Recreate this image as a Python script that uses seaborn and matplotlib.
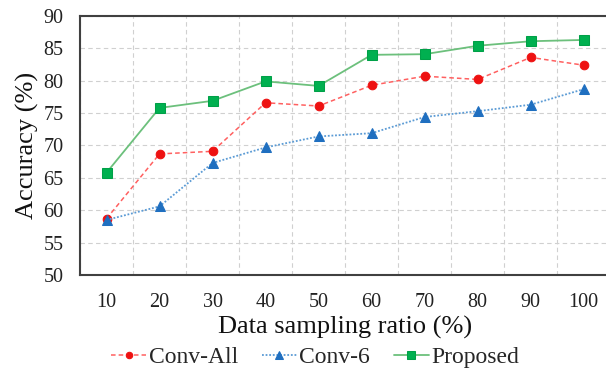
import matplotlib.pyplot as plt
import seaborn as sns
import pandas as pd
from matplotlib.ticker import MultipleLocator

# ---------------------------------------------------
ratios = [10, 20, 30, 40, 50, 60, 70, 80, 90, 100]
conv_all = [58.7, 68.7, 69.1, 76.6, 76.1, 79.3, 80.7, 80.2, 83.6, 82.4]
conv_6 = [58.5, 60.6, 67.3, 69.7, 71.4, 71.9, 74.4, 75.3, 76.3, 78.7]
proposed = [65.8, 75.8, 76.9, 79.9, 79.2, 84.0, 84.1, 85.4, 86.1, 86.3]

sns.set_style("white")
plt.rcParams['font.family'] = ['Liberation Serif', 'DejaVu Serif']

fig = plt.figure(figsize=(6.06, 3.69), dpi=100)
ax = fig.add_axes([0.132, 0.2547, 0.875, 0.702])

# ----------------------------------------------
sns.lineplot(x=ratios, y=conv_all, ax=ax, color='#FF6060', linestyle=(0, (3, 2)),
             linewidth=1.1, marker='o', markersize=6.2, markerfacecolor='#EE1111',
             markeredgecolor='#EE1111', label='Conv-All')
sns.lineplot(x=ratios, y=conv_6, ax=ax, color='#5B9BD5', linestyle=(0, (1, 1)),
             linewidth=1.3, marker='^', markersize=6.8, markerfacecolor='#1F6FC0',
             markeredgecolor='#1F6FC0', label='Conv-6')
sns.lineplot(x=ratios, y=proposed, ax=ax, color='#6CC07C', linestyle='-',
             linewidth=1.3, marker='s', markersize=6.8, markerfacecolor='#00B050',
             markeredgecolor='#00A048', label='Proposed')

# ----------------------------------------------
ax.set_xlim(5, 105)
ax.set_ylim(50, 90)
ax.set_xticks(ratios)
ax.xaxis.set_minor_locator(MultipleLocator(10, offset=5))
ax.yaxis.set_major_locator(MultipleLocator(5))
ax.grid(True, which='major', axis='y', linestyle=(0, (4, 3)), color='#D0D0D0', linewidth=0.8)
ax.grid(True, which='minor', axis='x', linestyle=(0, (4, 3)), color='#D0D0D0', linewidth=0.8)
ax.tick_params(axis='both', which='both', length=0, labelsize=14.5, labelcolor='#222222')
ax.tick_params(axis='x', pad=13)
ax.tick_params(axis='y', pad=12)
for s in ax.spines.values():
    s.set_color('#404040')
    s.set_linewidth(1.5)

ax.set_xlabel("Data sampling ratio (%)", size=19, labelpad=3, color='#111111')
ax.set_ylabel("Accuracy (%)", size=19, labelpad=3, color='#111111')

handles, labels = ax.get_legend_handles_labels()
ax.get_legend().remove()
fig.legend(handles, labels, loc='lower center', bbox_to_anchor=(0.52, -0.055), ncol=3,
           frameon=False, fontsize=17, handlelength=1.5, handletextpad=0.1,
           columnspacing=1.0, markerscale=0.75)

fig.savefig("out.png", dpi=100)
